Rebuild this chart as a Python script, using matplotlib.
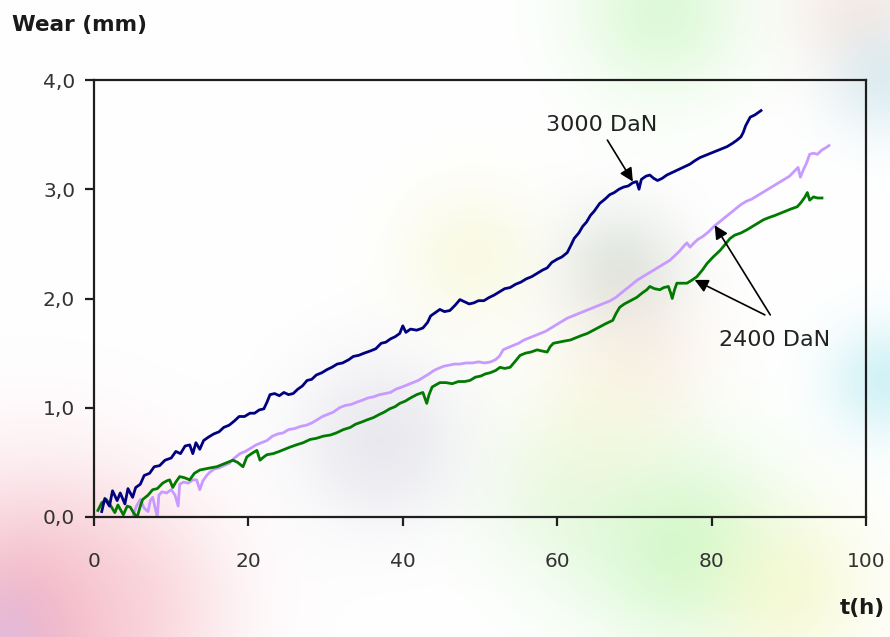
import numpy as np
import matplotlib
matplotlib.use("Agg")
import matplotlib.pyplot as plt
from matplotlib.ticker import FuncFormatter

# wear curves: time (h) and wear (mm)
t_3000 = [1.0, 1.4, 2.0, 2.4, 3.0, 3.4, 4.0, 4.4, 5.0, 5.4, 6.0, 6.5, 7.2, 7.8, 8.5, 9.2,
          10.0, 10.6, 11.2, 11.8, 12.4, 12.8, 13.2, 13.7, 14.2, 14.8, 15.5, 16.2, 16.8,
          17.5, 18.2, 18.8, 19.5, 20.2, 20.8, 21.4, 22.0, 22.4, 22.8, 23.4, 24.0, 24.6,
          25.2, 25.8, 26.4, 27.0, 27.6, 28.2, 28.8, 29.5, 30.2, 30.8, 31.5, 32.2, 33.0,
          33.6, 34.3, 35.0, 35.8, 36.5, 37.2, 37.8, 38.4, 39.0, 39.6, 40.0, 40.4, 41.0,
          41.8, 42.6, 43.2, 43.6, 44.2, 44.8, 45.4, 46.1, 46.8, 47.4, 48.0, 48.6, 49.2,
          49.8, 50.5, 51.2, 51.8, 52.5, 53.2, 53.9, 54.6, 55.3, 56.0, 56.7, 57.4, 58.1,
          58.7, 59.3, 60.0, 60.6, 61.3, 61.8, 62.2, 62.8, 63.3, 63.8, 64.3, 64.8, 65.5,
          66.2, 66.8, 67.4, 68.0, 68.6, 69.2, 69.8, 70.3, 70.6, 70.9, 71.5, 72.0, 72.5,
          73.0, 73.6, 74.2, 74.8, 75.4, 76.0, 76.6, 77.2, 77.8, 78.5, 79.2, 79.9, 80.6,
          81.3, 82.0, 82.7, 83.3, 83.8, 84.1, 84.4, 84.7, 85.0, 85.6, 86.0, 86.4]
w_3000 = [0.05, 0.17, 0.10, 0.24, 0.15, 0.22, 0.12, 0.26, 0.18, 0.27, 0.30, 0.38, 0.40,
          0.46, 0.47, 0.52, 0.54, 0.60, 0.58, 0.65, 0.66, 0.58, 0.68, 0.62, 0.70, 0.73,
          0.76, 0.78, 0.82, 0.84, 0.88, 0.92, 0.92, 0.95, 0.95, 0.98, 0.99, 1.05, 1.12,
          1.13, 1.11, 1.14, 1.12, 1.13, 1.17, 1.20, 1.25, 1.26, 1.30, 1.32, 1.35, 1.37,
          1.40, 1.41, 1.44, 1.47, 1.48, 1.50, 1.52, 1.54, 1.59, 1.60, 1.63, 1.65, 1.68,
          1.75, 1.69, 1.72, 1.71, 1.73, 1.78, 1.84, 1.87, 1.90, 1.88, 1.89, 1.94, 1.99,
          1.97, 1.95, 1.96, 1.98, 1.98, 2.01, 2.03, 2.06, 2.09, 2.10, 2.13, 2.15, 2.18,
          2.20, 2.23, 2.26, 2.28, 2.33, 2.36, 2.38, 2.42, 2.49, 2.55, 2.60, 2.66, 2.70,
          2.76, 2.80, 2.87, 2.91, 2.95, 2.97, 3.00, 3.02, 3.03, 3.06, 3.07, 3.00, 3.09,
          3.12, 3.13, 3.10, 3.08, 3.10, 3.13, 3.15, 3.17, 3.19, 3.21, 3.23, 3.26, 3.29,
          3.31, 3.33, 3.35, 3.37, 3.39, 3.42, 3.45, 3.48, 3.52, 3.58, 3.62, 3.66, 3.68,
          3.70, 3.72]

t_2400a = [5.0, 5.5, 6.0, 6.5, 7.0, 7.3, 7.6, 8.0, 8.2, 8.4, 8.8, 9.4, 10.0, 10.5, 10.9,
           11.1, 11.6, 12.2, 12.8, 13.3, 13.7, 14.1, 14.6, 15.0, 15.6, 16.2, 16.8, 17.5,
           18.2, 18.9, 19.6, 20.3, 21.0, 21.7, 22.4, 23.1, 23.8, 24.5, 25.2, 26.0, 26.8,
           27.5, 28.2, 28.9, 29.6, 30.3, 31.0, 31.8, 32.5, 33.3, 34.0, 34.8, 35.5, 36.2,
           37.0, 37.7, 38.4, 39.1, 39.9, 40.6, 41.3, 42.0, 42.7, 43.4, 44.0, 44.6, 45.3,
           46.0, 46.7, 47.4, 48.2, 49.0, 49.8, 50.6, 51.4, 52.0, 52.5, 53.0, 53.6, 54.3,
           55.0, 55.7, 56.4, 57.1, 57.8, 58.5, 59.2, 59.9, 60.6, 61.3, 62.0, 62.7, 63.4,
           64.1, 64.8, 65.5, 66.2, 66.9, 67.6, 68.3, 69.0, 69.7, 70.4, 71.1, 71.8, 72.5,
           73.2, 73.9, 74.6, 75.2, 75.8, 76.4, 76.8, 77.2, 77.6, 78.2, 78.9, 79.6, 80.3,
           81.0, 81.7, 82.4, 83.1, 83.8, 84.5, 85.2, 85.9, 86.6, 87.3, 88.0, 88.7, 89.4,
           90.1, 90.8, 91.2, 91.5, 91.9, 92.3, 92.7, 93.2, 93.7, 94.3, 94.8, 95.2]
w_2400a = [0.00, 0.10, 0.16, 0.08, 0.05, 0.15, 0.18, 0.06, 0.00, 0.20, 0.23, 0.22, 0.25,
           0.20, 0.10, 0.30, 0.32, 0.31, 0.34, 0.34, 0.25, 0.33, 0.38, 0.41, 0.44, 0.45,
           0.47, 0.49, 0.54, 0.58, 0.60, 0.63, 0.66, 0.68, 0.70, 0.74, 0.76, 0.77, 0.80,
           0.81, 0.83, 0.84, 0.86, 0.89, 0.92, 0.94, 0.96, 1.00, 1.02, 1.03, 1.05, 1.07,
           1.09, 1.10, 1.12, 1.13, 1.14, 1.17, 1.19, 1.21, 1.23, 1.25, 1.28, 1.31, 1.34,
           1.36, 1.38, 1.39, 1.40, 1.40, 1.41, 1.41, 1.42, 1.41, 1.42, 1.44, 1.47, 1.53,
           1.55, 1.57, 1.59, 1.62, 1.64, 1.66, 1.68, 1.70, 1.73, 1.76, 1.79, 1.82, 1.84,
           1.86, 1.88, 1.90, 1.92, 1.94, 1.96, 1.98, 2.01, 2.05, 2.09, 2.13, 2.17, 2.20,
           2.23, 2.26, 2.29, 2.32, 2.35, 2.39, 2.43, 2.48, 2.51, 2.47, 2.50, 2.54, 2.57,
           2.61, 2.66, 2.70, 2.74, 2.78, 2.82, 2.86, 2.89, 2.91, 2.94, 2.97, 3.00, 3.03,
           3.06, 3.09, 3.12, 3.17, 3.20, 3.11, 3.18, 3.24, 3.32, 3.33, 3.32, 3.36, 3.38,
           3.40]

t_2400b = [0.5, 1.0, 1.6, 2.1, 2.7, 3.1, 3.8, 4.3, 4.7, 5.2, 5.6, 6.0, 6.3, 7.0, 7.6, 8.2,
           8.9, 9.4, 9.8, 10.2, 10.6, 11.1, 11.7, 12.4, 13.0, 13.7, 14.4, 15.1, 15.9, 16.6,
           17.3, 18.0, 18.6, 19.3, 19.8, 20.4, 21.1, 21.5, 22.0, 22.4, 23.2, 24.0, 24.7,
           25.4, 26.2, 27.1, 28.0, 28.8, 29.7, 30.6, 31.4, 32.3, 33.2, 33.9, 34.7, 35.4,
           36.2, 37.0, 37.6, 38.3, 39.0, 39.6, 40.3, 41.0, 41.8, 42.2, 42.6, 43.1, 43.4,
           43.8, 44.3, 44.8, 45.6, 46.4, 47.2, 48.0, 48.7, 49.4, 50.1, 50.7, 51.3, 52.0,
           52.6, 53.2, 53.9, 54.5, 55.2, 55.9, 56.6, 57.4, 58.0, 58.7, 59.1, 59.5, 60.2,
           60.9, 61.7, 62.4, 63.1, 63.9, 64.7, 65.5, 66.3, 67.2, 67.6, 68.1, 68.7, 69.5,
           70.3, 71.0, 71.6, 72.0, 72.6, 73.3, 73.8, 74.4, 74.7, 74.9, 75.2, 75.5, 76.2,
           76.8, 77.5, 78.1, 78.8, 79.4, 80.2, 81.1, 81.8, 82.4, 83.0, 83.8, 84.6, 85.3,
           86.0, 86.7, 87.4, 88.2, 88.9, 89.6, 90.3, 91.1, 91.6, 92.1, 92.4, 92.7, 93.2,
           93.7, 94.3]
w_2400b = [0.06, 0.13, 0.16, 0.11, 0.04, 0.11, 0.02, 0.10, 0.09, 0.03, 0.00, 0.10, 0.16,
           0.20, 0.25, 0.26, 0.31, 0.33, 0.34, 0.27, 0.32, 0.37, 0.36, 0.34, 0.40, 0.43,
           0.44, 0.45, 0.46, 0.48, 0.50, 0.52, 0.50, 0.46, 0.55, 0.58, 0.61, 0.52, 0.55,
           0.57, 0.58, 0.60, 0.62, 0.64, 0.66, 0.68, 0.71, 0.72, 0.74, 0.75, 0.77, 0.80,
           0.82, 0.85, 0.87, 0.89, 0.91, 0.94, 0.96, 0.99, 1.01, 1.04, 1.06, 1.09, 1.12,
           1.13, 1.14, 1.04, 1.12, 1.19, 1.21, 1.23, 1.23, 1.22, 1.24, 1.24, 1.25, 1.28,
           1.29, 1.31, 1.32, 1.34, 1.37, 1.36, 1.37, 1.42, 1.48, 1.50, 1.51, 1.53, 1.52,
           1.51, 1.56, 1.59, 1.60, 1.61, 1.62, 1.64, 1.66, 1.68, 1.71, 1.74, 1.77, 1.80,
           1.86, 1.92, 1.95, 1.98, 2.01, 2.05, 2.08, 2.11, 2.09, 2.08, 2.10, 2.11, 2.05,
           2.00, 2.08, 2.14, 2.14, 2.14, 2.17, 2.20, 2.26, 2.32, 2.38, 2.44, 2.50, 2.55,
           2.58, 2.60, 2.63, 2.66, 2.69, 2.72, 2.74, 2.76, 2.78, 2.80, 2.82, 2.84, 2.88,
           2.93, 2.97, 2.90, 2.93, 2.92, 2.92]

x_ticks = [0, 20, 40, 60, 80, 100]
y_ticks = [0.0, 1.0, 2.0, 3.0, 4.0]

W, H = 890, 637
fig = plt.figure(figsize=(W / 100, H / 100), dpi=100)

# soft pastel backdrop
yy, xx = np.mgrid[0:H, 0:W].astype(float)
bg = np.ones((H, W, 3))
blobs = [
    (30, 630, 100, (240, 160, 178), 0.8),
    (130, 600, 65, (250, 205, 210), 0.45),
    (0, 637, 40, (215, 190, 235), 0.5),
    (680, 545, 70, (185, 245, 175), 0.6),
    (560, 500, 60, (205, 242, 195), 0.35),
    (790, 590, 60, (245, 245, 185), 0.5),
    (620, 270, 45, (180, 195, 180), 0.4),
    (380, 440, 60, (200, 200, 215), 0.4),
    (470, 255, 50, (242, 242, 190), 0.4),
    (640, 350, 50, (245, 212, 200), 0.3),
    (600, 420, 60, (245, 245, 200), 0.35),
    (885, 380, 40, (175, 232, 240), 0.55),
    (660, 10, 60, (195, 245, 185), 0.55),
    (860, 10, 50, (235, 212, 200), 0.45),
    (885, 80, 40, (185, 222, 235), 0.45),
]
for cx, cy, s, col, a in blobs:
    wgt = a * np.exp(-((xx - cx) ** 2 + (yy - cy) ** 2) / (2 * s ** 2))
    bg = bg * (1 - wgt[..., None]) + (np.array(col) / 255.0) * wgt[..., None]
ax_bg = fig.add_axes([0, 0, 1, 1], zorder=0)
ax_bg.imshow(bg, extent=[0, W, H, 0], aspect="auto")
ax_bg.axis("off")

ax = fig.add_axes([94 / W, 1 - 517 / H, (866 - 94) / W, (517 - 80) / H], zorder=1)
ax.set_facecolor("none")

ax.plot(t_2400a, w_2400a, color="#c89aff", lw=2.0)
ax.plot(t_2400b, w_2400b, color="#007a00", lw=2.0)
ax.plot(t_3000, w_3000, color="#000080", lw=2.0)

ax.set_xlim(0, 100)
ax.set_ylim(0, 4.0)
ax.set_xticks(x_ticks)
ax.set_yticks(y_ticks)
ax.yaxis.set_major_formatter(FuncFormatter(lambda v, p: f"{v:.1f}".replace(".", ",")))

frame = "#1e1e1e"
for sp in ax.spines.values():
    sp.set_color(frame)
    sp.set_linewidth(1.6)
ax.tick_params(axis="both", direction="out", length=6.5, width=1.6, color=frame,
               labelcolor="#333333", labelsize=14.5)
ax.tick_params(axis="x", pad=19)
ax.tick_params(axis="y", pad=7)

arrow = dict(arrowstyle="-|>", color="black", lw=1.2, mutation_scale=20,
             shrinkA=0, shrinkB=0)
ax.text(65.8, 3.59, "3000 DaN", fontsize=16, color="#222222", ha="center", va="center")
ax.annotate("", xy=(69.8, 3.07), xytext=(66.5, 3.45), arrowprops=arrow)

ax.text(88.1, 1.62, "2400 DaN", fontsize=16, color="#222222", ha="center", va="center")
ax.annotate("", xy=(80.4, 2.67), xytext=(87.6, 1.85), arrowprops=arrow)
ax.annotate("", xy=(77.8, 2.17), xytext=(86.9, 1.85), arrowprops=arrow)

fig.text(12 / W, 1 - 25 / H, "Wear (mm)", fontsize=15.5, fontweight="bold",
         color="#1a1a1a", ha="left", va="center")
fig.text(885 / W, 1 - 608 / H, "t(h)", fontsize=15.5, fontweight="bold",
         color="#1a1a1a", ha="right", va="center")

fig.savefig("out.png", dpi=100)
